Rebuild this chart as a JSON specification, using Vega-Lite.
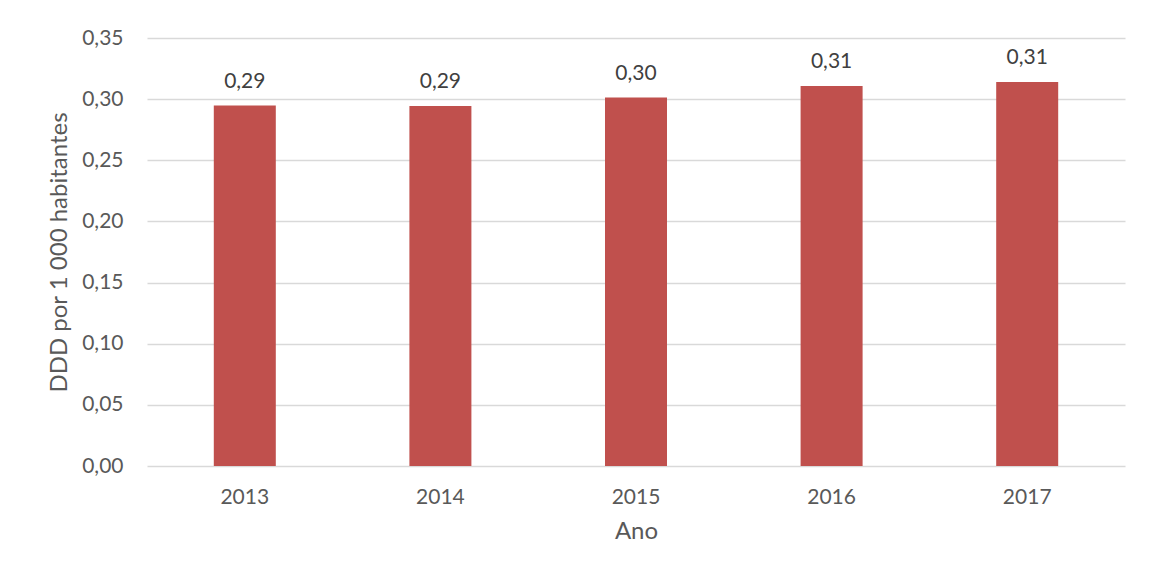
{
  "$schema": "https://vega.github.io/schema/vega-lite/v6.json",
  "autosize": {"type": "none"},
  "padding": {"left": 147, "top": 38, "right": 25, "bottom": 112},
  "width": 978,
  "height": 428,
  "background": "white",
  "config": {
    "locale": {"number": {"decimal": ",", "thousands": " ", "grouping": [3], "currency": ["", " €"]}},
    "view": {"stroke": null},
    "font": "Lato"
  },
  "data": {
    "values": [
      {"Ano": "2013", "DDD": 0.2947},
      {"Ano": "2014", "DDD": 0.2944},
      {"Ano": "2015", "DDD": 0.3013},
      {"Ano": "2016", "DDD": 0.3107},
      {"Ano": "2017", "DDD": 0.314}
    ]
  },
  "encoding": {
    "x": {
      "field": "Ano",
      "type": "nominal",
      "scale": {"paddingInner": 0.683, "paddingOuter": 0.3415},
      "axis": {
        "title": "Ano",
        "labelAngle": 0,
        "labelFont": "Lato",
        "labelFontSize": 21,
        "labelColor": "#595959",
        "labelPadding": 20,
        "titleFont": "Lato",
        "titleFontSize": 24,
        "titleFontWeight": "normal",
        "titleColor": "#595959",
        "titlePadding": 12,
        "ticks": false,
        "domain": false,
        "grid": false
      }
    },
    "y": {
      "field": "DDD",
      "type": "quantitative",
      "scale": {"domain": [0, 0.35]},
      "axis": {
        "title": "DDD por 1 000 habitantes",
        "values": [0, 0.05, 0.1, 0.15, 0.2, 0.25, 0.3, 0.35],
        "format": ".2f",
        "labelFont": "Lato",
        "labelFontSize": 21,
        "labelColor": "#595959",
        "labelPadding": 24,
        "titleFont": "Lato",
        "titleFontSize": 24,
        "titleFontWeight": "normal",
        "titleColor": "#595959",
        "titlePadding": 10,
        "ticks": false,
        "domain": false,
        "grid": true,
        "gridColor": "#D9D9D9",
        "gridWidth": 1.5
      }
    }
  },
  "layer": [
    {"mark": {"type": "bar", "color": "#C0504D"}},
    {
      "mark": {"type": "text", "baseline": "alphabetic", "dy": -18, "fontSize": 21, "color": "#404040", "font": "Lato"},
      "encoding": {"text": {"field": "DDD", "type": "quantitative", "format": ".2f"}}
    }
  ]
}
